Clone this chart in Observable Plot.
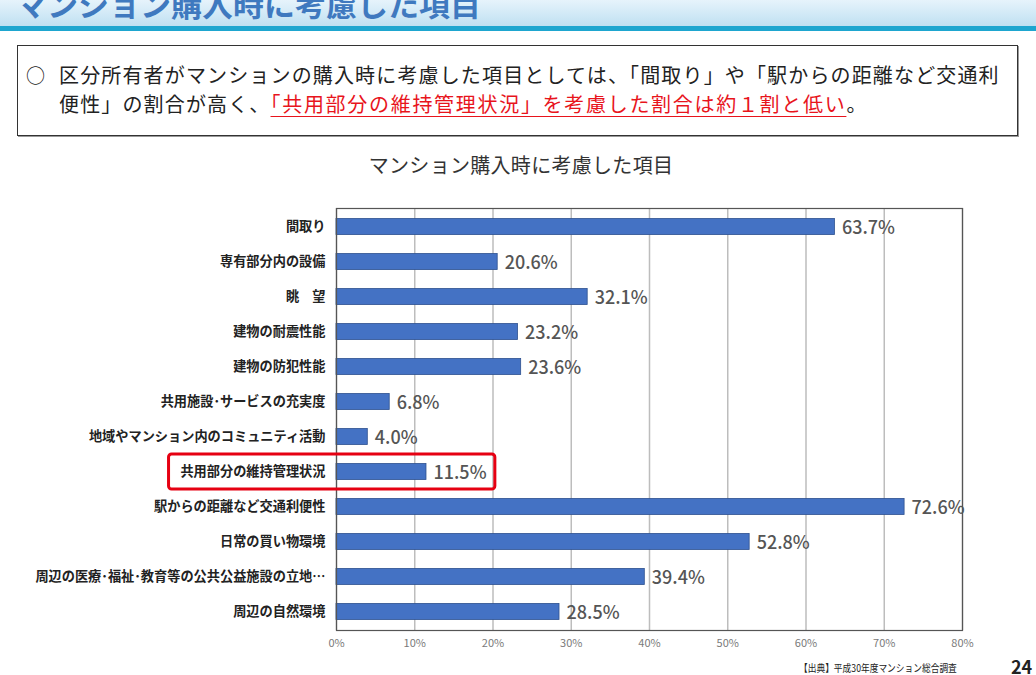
<!DOCTYPE html>
<html lang="ja">
<head>
<meta charset="utf-8">
<script src="https://cdn.jsdelivr.net/npm/d3@7"></script>
<script src="https://cdn.jsdelivr.net/npm/@observablehq/plot@0.6"></script>
<style>
  html, body { margin: 0; padding: 0; background: #fff; }
  body { width: 1036px; height: 675px; overflow: hidden; position: relative;
         font-family: "Noto Sans CJK JP", "Noto Sans", sans-serif; }
  #banner { position: absolute; left: 0; top: 0; width: 1036px; height: 26px;
            background: linear-gradient(#e6f3fb, #cfe8f6 60%, #bfe0f1); overflow: hidden; }
  #banner-title { position: absolute; left: 16px; top: -13px; font-size: 31px; line-height: 31px;
                  font-weight: 700; color: #3f79bf; white-space: nowrap; }
  #rule { position: absolute; left: 0; top: 26px; width: 1036px; height: 5px; background: #1ea6cf; }
  #box { position: absolute; left: 17px; top: 45px; width: 999px; height: 89px;
         border: 1px solid #333; box-shadow: 1px 1px 0 #999; }
  #bullet { position: absolute; left: 8px; top: 14px; font-size: 19px; line-height: 29px; color: #222; }
  #msg { position: absolute; left: 41px; top: 14px; font-size: 20px; line-height: 29px; color: #222;
         white-space: nowrap; letter-spacing: 1.15px; }
  #msg .red { color: #e8141c; letter-spacing: 1.7px; text-decoration: underline; text-decoration-thickness: 1px; text-underline-offset: 4px; }
  #title { position: absolute; left: 0; top: 150px; width: 1042px; text-align: center;
           font-size: 20px; line-height: 30px; color: #333; letter-spacing: 0.3px; }
  #chart { position: absolute; left: 0; top: 150px; }
  #source { position: absolute; left: 799px; top: 660px; font-size: 10.5px; line-height: 16px; color: #222;
            white-space: nowrap; transform: scaleX(0.83); transform-origin: left center; }
  #page { position: absolute; left: 1011px; top: 655px; font-size: 18px; line-height: 22px; font-weight: 700; color: #222; }
</style>
</head>
<body>
<div id="banner"><div id="banner-title">マンション購入時に考慮した項目</div></div>
<div id="rule"></div>
<div id="box">
  <div id="bullet">○</div>
  <div id="msg">区分所有者がマンションの購入時に考慮した項目としては、「間取り」や「駅からの距離など交通利<br>便性」の割合が高く、<span class="red">「共用部分の維持管理状況」を考慮した割合は約１割と低い</span>。</div>
</div>
<div id="title">マンション購入時に考慮した項目</div>
<div id="chart"></div>
<div id="source">【出典】平成30年度マンション総合調査</div>
<div id="page">24</div>
<script>
const categories = [
  "間取り",
  "専有部分内の設備",
  "眺　望",
  "建物の耐震性能",
  "建物の防犯性能",
  "共用施設･サービスの充実度",
  "地域やマンション内のコミュニティ活動",
  "共用部分の維持管理状況",
  "駅からの距離など交通利便性",
  "日常の買い物環境",
  "周辺の医療･福祉･教育等の公共公益施設の立地…",
  "周辺の自然環境"
];
const values = [63.7, 20.6, 32.1, 23.2, 23.6, 6.8, 4.0, 11.5, 72.6, 52.8, 39.4, 28.5];
const xTicks = [0, 10, 20, 30, 40, 50, 60, 70, 80];
const highlightCategory = ["共用部分の維持管理状況"];
const highlightFrom = [-21.4];
const highlightTo = [20.3];

const data = categories.map((c, i) => ({category: c, value: values[i]}));
const highlight = highlightCategory.map((c, i) => ({category: c, x1: highlightFrom[i], x2: highlightTo[i]}));

const chart = Plot.plot({
  width: 1036,
  height: 525,
  marginLeft: 336,
  marginRight: 74,
  marginTop: 58,
  marginBottom: 45,
  style: {fontFamily: '"Noto Sans CJK JP", "Noto Sans", sans-serif', background: "transparent"},
  x: {domain: [0, 80], ticks: xTicks, tickFormat: d => d + "%"},
  y: {domain: categories, paddingInner: 0.54, paddingOuter: 0.3, round: false},
  marks: [
    Plot.gridX(xTicks, {stroke: "#bdbdbd", strokeOpacity: 1, strokeWidth: 1.5}),
    Plot.barX(data, {x: "value", y: "category", fill: "#4472c4", stroke: "#2f528f", strokeWidth: 0.8}),
    Plot.text(data, {x: "value", y: "category", text: d => d.value.toFixed(1) + "%", textAnchor: "start",
                     dx: 7, dy: 1, fontSize: 18, fontWeight: 500, fill: "#555"}),
    Plot.frame({stroke: "#555", strokeWidth: 1.2}),
    Plot.axisX({ticks: xTicks, tickFormat: d => d + "%", tickSize: 0, tickPadding: 9, fontSize: 11, fill: "#7a7a7a", label: null}),
    Plot.axisY({tickSize: 0, tickPadding: 11, fontSize: 13.2, fontWeight: 700, fill: "#222", label: null}),
    Plot.barX(highlight, {x1: "x1", x2: "x2", y: "category", fill: "none", stroke: "#e60012", strokeWidth: 3,
                          insetTop: -9.5, insetBottom: -9.5, rx: 3, clip: false})
  ]
});
document.getElementById("chart").appendChild(chart);
</script>
</body>
</html>
